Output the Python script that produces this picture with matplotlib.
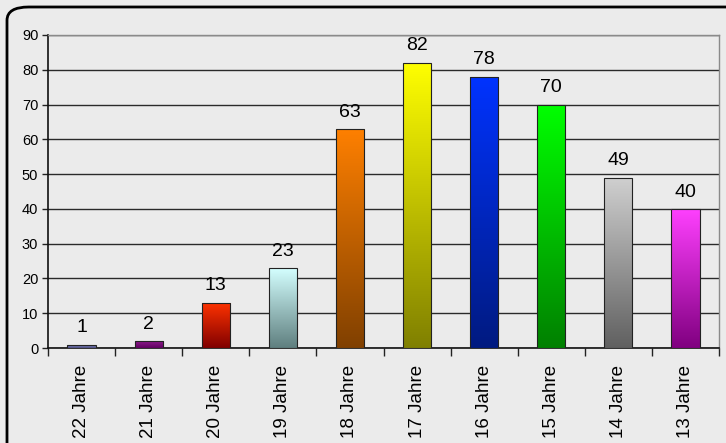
import numpy as np
import matplotlib
matplotlib.use('Agg')
import matplotlib.pyplot as plt
from matplotlib.colors import LinearSegmentedColormap
from matplotlib.patches import FancyBboxPatch

plt.rcParams['font.family'] = ['Liberation Sans', 'DejaVu Sans']

categories = ['22 Jahre', '21 Jahre', '20 Jahre', '19 Jahre', '18 Jahre',
              '17 Jahre', '16 Jahre', '15 Jahre', '14 Jahre', '13 Jahre']
values = [1, 2, 13, 23, 63, 82, 78, 70, 49, 40]
# top colour, bottom colour of each bar's gradient
top_colors = ['#8a94c8', '#8a1a8a', '#ff3300', '#d4ffff', '#ff8000',
              '#ffff00', '#0033ff', '#00ff00', '#d0d0d0', '#ff40ff']
bottom_colors = ['#505088', '#600060', '#800000', '#5f7f7f', '#804000',
                 '#808000', '#001a80', '#008000', '#606060', '#800080']
yticks = list(range(0, 91, 10))

fig = plt.figure(figsize=(7.26, 4.43), dpi=100, facecolor='#ebebeb')

# rounded black frame, running off the right and bottom edges
frame = FancyBboxPatch((7 / 726, -0.3), 1.2, 1 - 7 / 443 + 0.3,
                       boxstyle='round,pad=0,rounding_size=0.03',
                       transform=fig.transFigure, fill=False,
                       edgecolor='black', linewidth=2, zorder=0)
fig.patches.append(frame)

ax = fig.add_axes([48 / 726, 1 - 348 / 443, (719 - 48) / 726, (348 - 35) / 443])
ax.set_facecolor('none')

x = np.arange(len(categories))
bars = ax.bar(x, values, width=0.42, edgecolor='#222222', linewidth=0.8, zorder=3)

for b, c1, c2, v in zip(bars, top_colors, bottom_colors, values):
    cmap = LinearSegmentedColormap.from_list('g', [c2, c1])
    grad = np.linspace(0, 1, 256).reshape(-1, 1)
    x0, w, h = b.get_x(), b.get_width(), b.get_height()
    im = ax.imshow(grad, cmap=cmap, origin='lower', aspect='auto',
                   extent=[x0, x0 + w, 0, h], zorder=3)
    im.set_clip_path(b)
    b.set_facecolor('none')
    b.set_zorder(4)
    ax.annotate(str(v), (b.get_x() + w / 2, h), xytext=(0, 6),
                textcoords='offset points', ha='center', va='bottom',
                fontsize=14, color='black', zorder=5)

ax.set_xlim(-0.5, len(categories) - 0.5)
ax.set_ylim(0, 90)
ax.set_yticks(yticks)
ax.set_yticklabels([str(t) for t in yticks], fontsize=10.5)
ax.yaxis.grid(True, color='#2a2a2a', linewidth=1.0, zorder=1)
ax.set_axisbelow(True)

ax.set_xticks(x)
ax.set_xticklabels(categories, rotation=90, fontsize=13.5, ha='center', va='top')
ax.tick_params(axis='x', which='major', length=0, pad=12)
ax.set_xticks(np.arange(-0.5, len(categories), 1), minor=True)
ax.tick_params(axis='x', which='minor', length=6, width=1, color='#222222', direction='out')
ax.tick_params(axis='y', length=4, width=1, color='#222222', direction='out', pad=3)

for s in ['left', 'bottom']:
    ax.spines[s].set_color('#111111')
    ax.spines[s].set_linewidth(1.2)
for s in ['top', 'right']:
    ax.spines[s].set_color('#8a8a8a')
    ax.spines[s].set_linewidth(1.0)

fig.savefig('out.png', dpi=100, facecolor=fig.get_facecolor())
